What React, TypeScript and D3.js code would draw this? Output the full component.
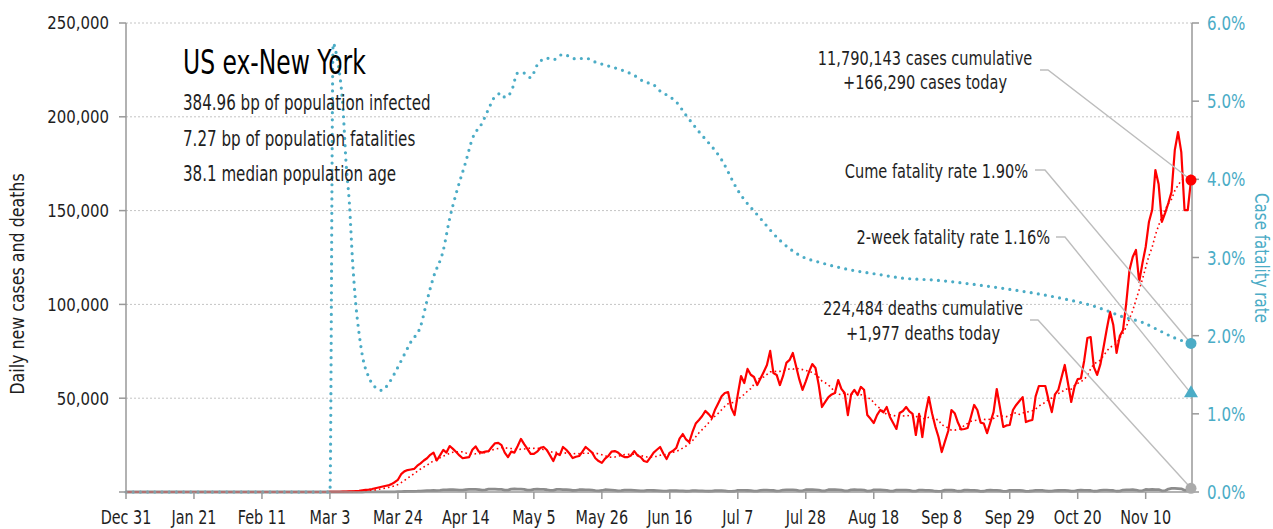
import React from "react";
import * as d3 from "d3";

// ---------- data ----------
const axisStart = new Date(2019, 11, 31);
const axisEnd = new Date(2020, 10, 24);
const seriesStart = new Date(2020, 2, 1); // daily values below start on Mar 1

// daily new cases, thousands (Mar 1 .. Nov 24)
const casesK = [
  0, 0, 0.05, 0.05, 0.1, 0.1, 0.15, 0.2, 0.3, 0.4,
  0.5, 0.6, 0.9, 1.1, 1.3, 1.6, 2.0, 2.4, 2.8, 3.2,
  3.5, 4.2, 5.2, 6.5, 9.5, 11.0, 11.7, 12.0, 12.3, 14.0,
  15.3, 16.8, 18.0, 19.8, 21.0, 16.8, 19.5, 22.4, 21.0, 24.5,
  23.0, 21.3, 19.5, 18.0, 18.3, 18.6, 22.5, 24.3, 21.5, 21.0,
  21.5, 21.8, 24.0, 26.0, 26.2, 25.0, 21.0, 18.6, 21.5, 21.0,
  24.5, 28.3, 25.5, 23.0, 20.3, 20.3, 21.5, 23.5, 24.0, 22.4,
  19.5, 16.5, 20.5, 19.7, 24.0, 22.5, 20.5, 18.1, 18.8, 19.2,
  21.5, 24.0, 22.5, 21.0, 18.0, 16.5, 15.5, 17.8, 19.2, 21.5,
  21.8, 21.0, 19.5, 18.6, 18.6, 19.5, 21.8, 19.5, 18.6, 16.5,
  16.0, 18.5, 21.0, 22.5, 24.0, 20.5, 17.6, 21.0, 22.0, 23.5,
  28.5, 30.9, 28.0, 26.6, 32.0, 36.5, 38.4, 40.5, 43.2, 41.5,
  39.4, 44.0, 47.5, 51.0, 52.8, 53.3, 44.8, 41.0, 52.0, 61.8,
  58.1, 65.6, 62.5, 61.3, 57.0, 60.5, 64.0, 67.7, 75.2, 63.4,
  62.4, 57.0, 62.0, 68.8, 70.4, 74.1, 67.0, 60.0, 54.4, 59.0,
  64.0, 68.2, 66.1, 57.0, 45.3, 48.0, 50.6, 52.0, 52.8, 59.7,
  55.0, 52.8, 41.0, 52.0, 54.4, 51.7, 56.0, 54.5, 41.0, 39.0,
  36.8, 41.0, 43.7, 42.5, 45.3, 40.0, 36.8, 33.6, 42.1, 43.2,
  45.3, 43.0, 41.6, 30.4, 41.6, 29.3, 42.1, 50.6, 42.0, 35.0,
  29.3, 21.3, 27.0, 32.5, 43.7, 42.0, 37.0, 33.3, 33.6, 34.1,
  40.0, 46.4, 43.7, 37.0, 36.5, 31.4, 37.0, 42.6, 54.9, 45.0,
  34.7, 35.5, 35.7, 43.7, 46.4, 48.5, 50.6, 37.3, 38.0, 38.4,
  51.0, 56.5, 56.5, 56.5, 49.0, 42.6, 52.0, 54.4, 61.0, 67.7,
  58.0, 48.0, 56.0, 60.2, 60.5, 70.0, 82.1, 82.6, 66.6, 62.4,
  68.0, 77.3, 87.0, 96.0, 89.0, 74.1, 83.1, 86.3, 100.7, 118.3,
  125.3, 129.0, 112.0, 122.0, 130.6, 143.9, 150.3, 171.6, 164.0, 144.0,
  148.7, 154.0, 160.0, 182.3, 191.9, 181.2, 150.3, 150.3, 166.29,
];

// daily new deaths (Mar 1 .. Nov 24)
const deaths = [
  0, 1, 2, 2, 3, 2, 3,
  4, 5, 6, 8, 10, 12, 15,
  18, 25, 30, 40, 50, 65, 80,
  100, 120, 160, 200, 260, 300, 340,
  360, 420, 520, 600, 700, 760, 800,
  780, 900, 1100, 1150, 1200, 1250, 1100,
  950, 1000, 1300, 1350, 1400, 1450, 1300,
  1050, 1100, 1500, 1550, 1500, 1450, 1350,
  1000, 1050, 1500, 1600, 1550, 1500, 1350,
  950, 1000, 1450, 1500, 1400, 1350, 1200,
  850, 900, 1350, 1400, 1300, 1250, 1100,
  800, 850, 1200, 1200, 1150, 1100, 950,
  700, 600, 800, 1200, 1100, 1000, 900,
  650, 700, 1050, 1000, 950, 900, 750,
  550, 600, 850, 850, 800, 750, 650,
  450, 500, 750, 750, 700, 650, 550,
  400, 450, 700, 700, 650, 600, 500,
  400, 450, 700, 750, 700, 600, 350,
  300, 400, 900, 850, 850, 800, 700,
  450, 500, 900, 950, 950, 900, 800,
  500, 550, 1050, 1100, 1150, 1100, 950,
  600, 650, 1200, 1250, 1200, 1150, 1000,
  600, 650, 1200, 1250, 1200, 1150, 1000,
  550, 600, 1150, 1200, 1150, 1100, 950,
  500, 550, 1100, 1150, 1100, 1050, 900,
  450, 500, 1050, 1050, 1000, 950, 850,
  450, 500, 950, 1000, 900, 900, 750,
  400, 350, 450, 1000, 1050, 1000, 800,
  400, 450, 1000, 950, 850, 850, 700,
  350, 400, 850, 950, 850, 850, 700,
  300, 350, 850, 900, 850, 850, 700,
  350, 400, 650, 850, 900, 850, 650,
  400, 450, 700, 800, 850, 850, 700,
  400, 450, 850, 1050, 850, 900, 800,
  400, 500, 900, 950, 950, 900, 800,
  400, 450, 1050, 1100, 1100, 1200, 1050,
  550, 650, 1350, 1300, 1400, 1250, 1300,
  650, 700, 1550, 1900, 1900, 1800, 1700,
  900, 850, 1977,
];

// case fatality rate (%), read at days after Dec 31
const cfrDay = [
  0, 63, 64, 65, 66, 67, 68, 69, 70, 71, 72, 73, 75, 77, 79, 81, 83, 86, 88, 91,
  93, 95, 98, 100, 102, 105, 107, 110, 112, 114, 116, 117, 119, 121, 123, 125, 127, 130, 132, 135,
  139, 142, 145, 149, 153, 157, 160, 163, 165, 167, 170, 173, 177, 184, 189, 196, 202, 208, 215, 224,
  233, 239, 250, 270, 281, 291, 298, 303, 308, 314, 319, 324, 329,
];
const cfrPct = [
  0, 0, 5.74, 5.6, 5.35, 4.93, 4.2, 3.7, 2.95, 2.4, 2.03, 1.75, 1.47, 1.34, 1.3, 1.38, 1.52, 1.76, 1.92, 2.12,
  2.45, 2.75, 3.09, 3.5, 3.82, 4.23, 4.52, 4.72, 4.9, 5.06, 5.1, 5.05, 5.12, 5.36, 5.36, 5.3, 5.46, 5.55, 5.53, 5.6,
  5.54, 5.55, 5.5, 5.45, 5.4, 5.33, 5.25, 5.21, 5.13, 5.08, 4.99, 4.82, 4.61, 4.25, 3.86, 3.5, 3.22, 3.03, 2.93, 2.84,
  2.78, 2.74, 2.71, 2.61, 2.54, 2.46, 2.39, 2.32, 2.24, 2.17, 2.07, 1.97, 1.9,
];

const xTickLabels = ["Dec 31", "Jan 21", "Feb 11", "Mar 3", "Mar 24", "Apr 14", "May 5", "May 26",
  "Jun 16", "Jul 7", "Jul 28", "Aug 18", "Sep 8", "Sep 29", "Oct 20", "Nov 10"];
const leftTicks = [50000, 100000, 150000, 200000, 250000];
const rightTicks = [0, 1, 2, 3, 4, 5, 6];

const title = "US ex-New York";
const statLines = ["384.96 bp of population infected", "7.27 bp of population fatalities", "38.1 median population age"];
const casesCum = 11790143;
const casesToday = 166290;
const deathsCum = 224484;
const deathsToday = 1977;
const cumeFatality = 1.9;
const twoWeekFatality = 1.16;

// ---------- styling ----------
const FONT = "'DejaVu Sans Condensed','DejaVu Sans',sans-serif";
const RED = "#ff0000";
const BLUE = "#4bacc6";
const GREY = "#8c8c8c";
const AXIS = "#999999";
const TEXT = "#1e1e1e";

const W = 1273, H = 529;
const L = 126, R = 1191, T = 23, B = 492;

type TxtProps = {
  x: number; y: number; size: number; sx?: number; rot?: number;
  anchor?: "start" | "middle" | "end"; fill?: string; dy?: string; children: React.ReactNode;
};
function Txt({ x, y, size, sx = 0.82, rot = 0, anchor = "start", fill = TEXT, dy, children }: TxtProps) {
  return (
    <text
      transform={`translate(${x},${y}) rotate(${rot}) scale(${sx},1)`}
      fontSize={size}
      textAnchor={anchor}
      fill={fill}
      dy={dy}
    >
      {children}
    </text>
  );
}

export default function App() {
  const x = d3.scaleTime().domain([axisStart, axisEnd]).range([L, R]);
  const yL = d3.scaleLinear().domain([0, 250000]).range([B, T]);
  const yR = d3.scaleLinear().domain([0, 6]).range([B, T]);

  const casePts = casesK.map((v, i) => ({ d: d3.timeDay.offset(seriesStart, i), v: v * 1000 }));
  const deathPts = deaths.map((v, i) => ({ d: d3.timeDay.offset(seriesStart, i), v }));
  const avgPts = casePts.map((p, i) => {
    const w = casePts.slice(Math.max(0, i - 6), i + 1);
    return { d: p.d, v: d3.mean(w, (q) => q.v) as number };
  });
  const lead = [{ d: axisStart, v: 0 }];

  const line = d3.line<{ d: Date; v: number }>().x((p) => x(p.d)).y((p) => yL(p.v));
  const cfrLine = d3
    .line<number>()
    .x((_, i) => x(d3.timeDay.offset(axisStart, cfrDay[i])))
    .y((v) => yR(v))
    .curve(d3.curveMonotoneX);

  const tickDates = xTickLabels.map((_, i) => d3.timeDay.offset(axisStart, 21 * i));
  const fmt = d3.format(",");
  const endX = x(axisEnd);
  const AX = 1192;

  const tri = d3.symbol(d3.symbolTriangle, 85)() as string;

  const leader = (pts: [number, number][]) => (
    <polyline points={pts.map((p) => p.join(",")).join(" ")} fill="none" stroke="#bdbdbd" strokeWidth={1.4} />
  );

  return (
    <svg width={W} height={H} style={{ position: "absolute", left: 0, top: 0, background: "#fff", fontStretch: "condensed" }} fontFamily={FONT}>
      {/* grid */}
      {leftTicks.map((t) => (
        <line key={t} x1={L} x2={AX} y1={yL(t)} y2={yL(t)} stroke="#c4c4c4" strokeWidth={1} strokeDasharray="2,2" />
      ))}

      {/* series */}
      <path d={line(lead.concat(deathPts)) as string} fill="none" stroke={GREY} strokeWidth={2.8} strokeLinejoin="round" />
      <path d={line(lead.concat(avgPts)) as string} fill="none" stroke={RED} strokeWidth={1.6} strokeDasharray="1.6,3" />
      <path d={line(lead.concat(casePts)) as string} fill="none" stroke={RED} strokeWidth={2.2} strokeLinejoin="round" />
      <path d={cfrLine(cfrPct) as string} fill="none" stroke={BLUE} strokeWidth={3.2} strokeDasharray="0,7.2" strokeLinecap="round" />

      {/* axes */}
      <line x1={L} x2={L} y1={T} y2={B} stroke={AXIS} strokeWidth={1.5} />
      <line x1={AX} x2={AX} y1={T} y2={B} stroke={AXIS} strokeWidth={1.5} />
      <line x1={L} x2={AX} y1={B} y2={B} stroke={AXIS} strokeWidth={1.5} />
      {[0, ...leftTicks].map((t) => (
        <g key={"l" + t}>
          <line x1={L - 7} x2={L} y1={yL(t)} y2={yL(t)} stroke={AXIS} strokeWidth={1.5} />
          {t > 0 && (
            <Txt x={L - 17} y={yL(t)} dy="0.36em" anchor="end" size={17.5} sx={0.95}>
              {fmt(t)}
            </Txt>
          )}
        </g>
      ))}
      {rightTicks.map((t) => (
        <g key={"r" + t}>
          <line x1={AX} x2={AX + 7} y1={yR(t)} y2={yR(t)} stroke={AXIS} strokeWidth={1.5} />
          <Txt x={1207} y={yR(t)} dy="0.36em" size={19.5} sx={0.86} fill={BLUE}>
            {t.toFixed(1) + "%"}
          </Txt>
        </g>
      ))}
      {tickDates.map((d, i) => (
        <g key={"x" + i}>
          <line x1={x(d)} x2={x(d)} y1={B} y2={B + 7} stroke={AXIS} strokeWidth={1.5} />
          <Txt x={x(d)} y={524} anchor="middle" size={19.5} sx={0.82}>
            {xTickLabels[i]}
          </Txt>
        </g>
      ))}
      <Txt x={24} y={284} rot={-90} anchor="middle" size={20} sx={0.88}>
        Daily new cases and deaths
      </Txt>
      <Txt x={1255} y={258} rot={90} anchor="middle" size={19.5} sx={0.86} fill={BLUE}>
        Case fatality rate
      </Txt>

      {/* title block */}
      <Txt x={183} y={74} size={33} sx={0.79} fill="#000">{title}</Txt>
      {statLines.map((s, i) => (
        <Txt key={s} x={183} y={110 + 35.5 * i} size={21} sx={0.8}>{s}</Txt>
      ))}

      {/* annotations */}
      {leader([[1040, 70], [1048, 70], [endX, yL(casesToday)]])}
      {leader([[1035, 170], [1045, 170], [endX, yR(cumeFatality)]])}
      {leader([[1056, 237], [1065, 237], [endX, yR(twoWeekFatality) - 8]])}
      {leader([[1030, 320], [1038, 320], [endX, yL(deathsToday)]])}

      <Txt x={925} y={65} anchor="middle" size={19.5} sx={0.83}>{fmt(casesCum)} cases cumulative</Txt>
      <Txt x={925} y={89} anchor="middle" size={19.5} sx={0.83}>+{fmt(casesToday)} cases today</Txt>
      <Txt x={1028} y={178} anchor="end" size={19.5} sx={0.83}>Cume fatality rate {cumeFatality.toFixed(2)}%</Txt>
      <Txt x={1050} y={244} anchor="end" size={19.5} sx={0.83}>2-week fatality rate {twoWeekFatality.toFixed(2)}%</Txt>
      <Txt x={923} y={315} anchor="middle" size={19.5} sx={0.83}>{fmt(deathsCum)} deaths cumulative</Txt>
      <Txt x={923} y={340} anchor="middle" size={19.5} sx={0.83}>+{fmt(deathsToday)} deaths today</Txt>

      {/* end markers */}
      <circle cx={endX} cy={yL(deathsToday)} r={5.5} fill="#aaaaaa" />
      <circle cx={endX} cy={yR(cumeFatality)} r={5.5} fill={BLUE} />
      <path d={tri} transform={`translate(${endX},${yR(twoWeekFatality) - 8})`} fill={BLUE} />
      <circle cx={endX} cy={yL(casesToday)} r={5.5} fill={RED} />
    </svg>
  );
}
